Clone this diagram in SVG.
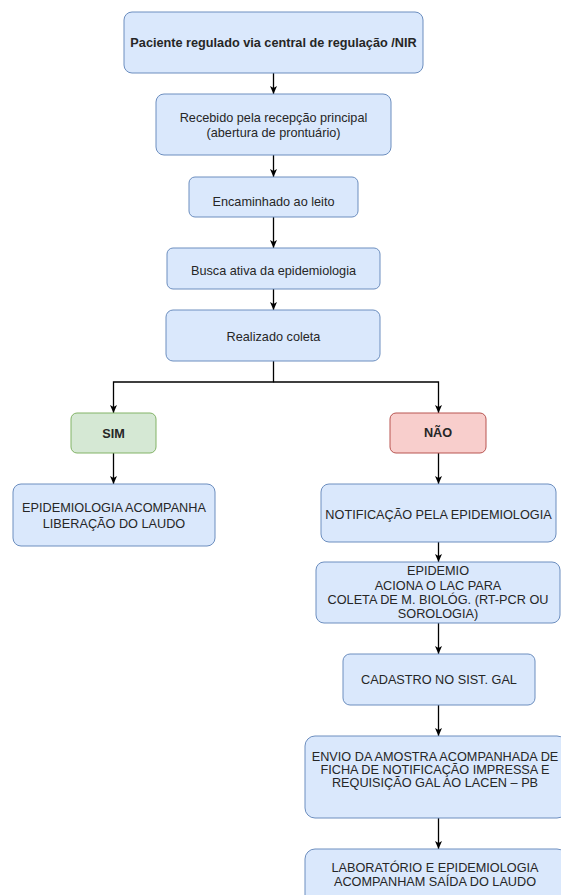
<svg xmlns="http://www.w3.org/2000/svg" width="561" height="895" viewBox="0 0 561 895">
<style>
.b{fill:#dae8fc;stroke:#6c8ebf;stroke-width:1}
.g{fill:#d5e8d4;stroke:#82b366;stroke-width:1}
.r{fill:#f8cecc;stroke:#b85450;stroke-width:1}
text{font-family:"Liberation Sans",Arial,Helvetica,sans-serif;font-size:12.7px;fill:#262626;text-anchor:middle}
.bold{font-weight:bold}
.c{fill:none;stroke:#000;stroke-width:1.3}
</style>
<defs>
<marker id="ah" markerWidth="8" markerHeight="8" refX="8" refY="4" orient="auto" markerUnits="userSpaceOnUse">
<path d="M0,0.5 L8,4 L0,7.5 L2,4 Z" fill="#000"/>
</marker>
</defs>
<rect width="561" height="895" fill="#fff"/>
<g id="connectors">
<path class="c" d="M273.5,73 V94" marker-end="url(#ah)"/>
<path class="c" d="M273.5,155 V177" marker-end="url(#ah)"/>
<path class="c" d="M273.5,217 V248" marker-end="url(#ah)"/>
<path class="c" d="M273.5,289 V310" marker-end="url(#ah)"/>
<path class="c" d="M273.5,361 V382 H113.5 V413" marker-end="url(#ah)"/>
<path class="c" d="M273.5,382 H438.5 V413" marker-end="url(#ah)"/>
<path class="c" d="M113.5,453 V484" marker-end="url(#ah)"/>
<path class="c" d="M438.5,453 V484" marker-end="url(#ah)"/>
<path class="c" d="M438.5,542 V562" marker-end="url(#ah)"/>
<path class="c" d="M438.5,623 V654" marker-end="url(#ah)"/>
<path class="c" d="M438.5,705 V736" marker-end="url(#ah)"/>
<path class="c" d="M438.5,818 V849" marker-end="url(#ah)"/>
</g>
<g id="n1"><rect class="b" x="124" y="12" width="299" height="61" rx="8"/><text class="bold" x="273.5" y="47">Paciente regulado via central de regulação /NIR</text></g>
<g id="n2"><rect class="b" x="156" y="94" width="235" height="61" rx="8"/><text x="273.5" y="122">Recebido pela recepção principal</text><text x="273.5" y="137">(abertura de prontuário)</text></g>
<g id="n3"><rect class="b" x="189" y="177" width="169" height="40" rx="6"/><text x="273.5" y="206">Encaminhado ao leito</text></g>
<g id="n4"><rect class="b" x="167" y="248" width="213" height="41" rx="6"/><text x="273.5" y="275">Busca ativa da epidemiologia</text></g>
<g id="n5"><rect class="b" x="166" y="310" width="214" height="51" rx="7"/><text x="273.5" y="341">Realizado coleta</text></g>
<g id="sim"><rect class="g" x="71" y="413" width="85" height="40" rx="6"/><text class="bold" x="113.5" y="438">SIM</text></g>
<g id="nao"><rect class="r" x="390" y="413" width="96" height="40" rx="6"/><text class="bold" x="438" y="437">NÃO</text></g>
<g id="n6"><rect class="b" x="13" y="484" width="202" height="62" rx="8"/><text x="114" y="512">EPIDEMIOLOGIA ACOMPANHA</text><text x="114" y="528">LIBERAÇÃO DO LAUDO</text></g>
<g id="n7"><rect class="b" x="321" y="484" width="235" height="58" rx="8"/><text x="438.5" y="519">NOTIFICAÇÃO PELA EPIDEMIOLOGIA</text></g>
<g id="n8"><rect class="b" x="316" y="562" width="244" height="61" rx="8"/><text x="438" y="575">EPIDEMIO</text><text x="438" y="590">ACIONA O LAC PARA</text><text x="438" y="604">COLETA DE M. BIOLÓG. (RT-PCR OU</text><text x="438" y="618">SOROLOGIA)</text></g>
<g id="n9"><rect class="b" x="343" y="654" width="192" height="51" rx="7"/><text x="439" y="684">CADASTRO NO SIST. GAL</text></g>
<g id="n10"><rect class="b" x="305" y="736" width="262" height="82" rx="10"/><text x="435" y="761">ENVIO DA AMOSTRA ACOMPANHADA DE</text><text x="435" y="774">FICHA DE NOTIFICAÇÃO IMPRESSA E</text><text x="435" y="787">REQUISIÇÃO GAL AO LACEN – PB</text></g>
<g id="n11"><rect class="b" x="305" y="849" width="262" height="60" rx="10"/><text x="435" y="872">LABORATÓRIO E EPIDEMIOLOGIA</text><text x="435" y="886">ACOMPANHAM SAÍDA DO LAUDO</text></g>
</svg>
